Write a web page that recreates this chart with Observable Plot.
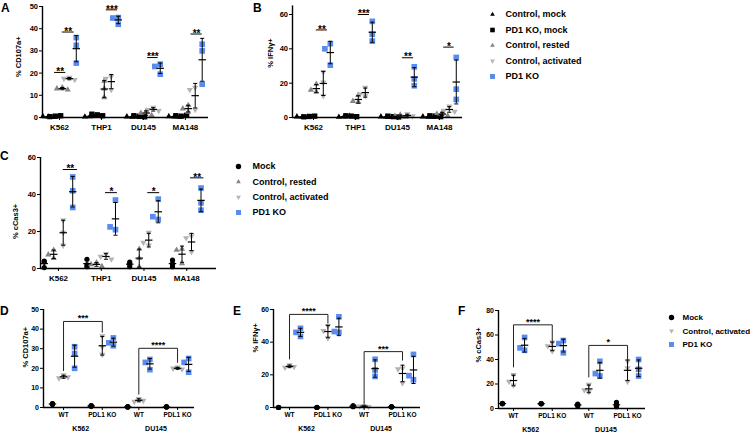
<!DOCTYPE html>
<html><head><meta charset="utf-8">
<script src="https://cdn.jsdelivr.net/npm/d3@7"></script>
<script src="https://cdn.jsdelivr.net/npm/@observablehq/plot@0.6"></script>
<style>
body{margin:0;background:#fff;font-family:"Liberation Sans",Arial,Helvetica,sans-serif;}
#fig{position:relative;width:750px;height:432px;overflow:hidden;background:#fff;}
.lbl{position:absolute;font-weight:bold;font-size:12px;line-height:12px;color:#000;}
</style></head><body><div id="fig"></div>
<script>
// ---------------- data ----------------
const abCats = ["K562", "THP1", "DU145", "MA148"];
const abGroups = ["Control, mock", "PD1 KO, mock", "Control, rested", "Control, activated", "PD1 KO"];
const cGroups = ["Mock", "Control, rested", "Control, activated", "PD1 KO"];
const defCells = ["K562", "DU145"];
const defTargets = ["WT", "PDL1 KO"];
const defGroups = ["Mock", "Control, activated", "PD1 KO"];

// A: % CD107a+  [cell line][group][replicate]
const cd107aA = [
  [[0.3, 0.5, 0.2], [0.6, 0.4, 0.8], [13.5, 13, 12.5], [18, 17.5, 17], [36, 32.5, 24.5]],
  [[0.5, 0.3, 0.8], [1.2, 1.5, 0.8], [16.5, 13, 9], [18.5, 17.5, 12.5], [45, 44.8, 42]],
  [[0.2, 0.4, 0.3], [0.5, 0.8, 0.3], [3, 2, 1], [4.5, 3.5, 3], [24, 23, 19.5]],
  [[0.3, 0.5, 0.2], [0.6, 0.8, 1], [5.5, 4, 2.5], [13.5, 12.5, 3.5], [33, 30, 15]]
];
// B: % IFNγ+
const ifngB = [
  [[0.3, 0.5, 0.2], [0.6, 0.4, 0.8], [15, 19.5, 16], [26.5, 20.5, 12.5], [43, 40, 30.5]],
  [[0.5, 0.3, 0.8], [0.8, 1, 0.5], [13, 9, 9.5], [17.5, 12.5, 13.5], [56, 48.5, 44.5]],
  [[0.3, 0.5, 0.2], [0.5, 0.8, 0.3], [1.5, 0.8, 0.3], [2, 0.5, 0.8], [29.5, 22.5, 18.5]],
  [[0.3, 0.5, 0.2], [0.8, 1, 0.5], [3, 2, 1], [6.5, 4, 3.5], [35, 16.5, 10.5]]
];
// C: % cCas3+
const ccas3C = [
  [[4, 3.5, 0.5], [10, 5.5, 7.5], [26, 19.5, 12.5], [49.5, 42, 33]],
  [[5, 2, 1], [3.2, 2.2, 1.2], [8, 6.5, 5], [37, 21, 22.5]],
  [[3.5, 2.5, 1], [10.5, 5.5, 0.8], [19.5, 12.5, 14], [37.5, 26.5, 28]],
  [[4.5, 2.5, 1], [10.5, 10, 2.7], [17.5, 16.5, 9], [43.5, 35.5, 31.5]]
];
// D: % CD107a+  [cell][target][group][replicate]
const cd107aD = [
  [[[1.5, 2, 1.8], [16.5, 15, 15.5], [31, 27.5, 20]], [[0.8, 1, 0.6], [36.5, 31, 27], [35.5, 31.5, 33]]],
  [[[0.3, 0.2, 0.4], [4.5, 3, 3.5], [24.5, 23, 19.3]], [[0.3, 0.4, 0.2], [20.5, 20, 19.5], [25, 23, 18]]]
];
// E: % IFNγ+
const ifngE = [
  [[[0, 0.1, 0], [26, 24.5, 25], [48.5, 46, 43.5]], [[0, 0.1, 0], [50, 42.5, 47], [55.5, 46, 46.5]]],
  [[[1, 0.5, 1], [1, 0.8, 0.5], [29.5, 23, 19]], [[0.4, 0.3, 0.5], [24, 23.5, 15], [32.5, 17, 19.5]]]
];
// F: % cCas3+
const ccas3F = [
  [[[4, 3.8, 4.2], [27.5, 19, 22], [58, 47.5, 49.5]], [[4, 3.8, 3.9], [54, 47, 51], [55.5, 53, 45.5]]],
  [[[3.5, 2, 3], [19.5, 13.5, 15], [38.5, 26.5, 28.5]], [[5, 2.5, 1.5], [38.5, 33, 22], [40, 32, 26.5]]]
];
// significance annotations
const sigA = [
  {cat: 0, x1: 0.9, x2: 2.5, y: 20.3, label: "**"},
  {cat: 0, x1: 2.0, x2: 3.7, y: 38.5, label: "**"},
  {cat: 1, x1: 2.3, x2: 3.9, y: 48.5, label: "***"},
  {cat: 2, x1: 2.2, x2: 3.7, y: 27, label: "***"},
  {cat: 3, x1: 2.4, x2: 4.0, y: 37.6, label: "**"}
];
const sigB = [
  {cat: 0, x1: 2.0, x2: 3.6, y: 51, label: "**"},
  {cat: 1, x1: 2.0, x2: 3.6, y: 60, label: "***"},
  {cat: 2, x1: 2.3, x2: 3.9, y: 34.8, label: "**"},
  {cat: 3, x1: 2.2, x2: 3.7, y: 41, label: "*"}
];
const sigC = [
  {cat: 0, x1: 2.0, x2: 3.5, y: 53.5, label: "**"},
  {cat: 1, x1: 1.95, x2: 3.2, y: 41, label: "*"},
  {cat: 2, x1: 1.9, x2: 3.15, y: 41, label: "*"},
  {cat: 3, x1: 1.9, x2: 3.3, y: 49, label: "**"}
];
const brD = [{cell: 0, top: 43.9, left: 18.8, right: 38.4, label: "***"}, {cell: 1, top: 30.2, left: 6.8, right: 23, label: "****"}];
const brE = [{cell: 0, top: 57, left: 29.7, right: 51.6, label: "****"}, {cell: 1, top: 34.2, left: 2, right: 29, label: "***"}];
const brF = [{cell: 0, top: 68.3, left: 33.9, right: 54.2, label: "****"}, {cell: 1, top: 51.5, left: 25.7, right: 39.3, label: "*"}];

// ---------------- styles ----------------
const FONT = "'Liberation Sans', Arial, Helvetica, sans-serif";
const BLUE = "#5a8cf0", GRAY = "#858585", LGRAY = "#b3b3b3";
const S3 = Math.sqrt(3);
const triDown = {draw(ctx, size) { const y = -Math.sqrt(size / (S3 * 3)); ctx.moveTo(0, -y * 2); ctx.lineTo(-S3 * y, y); ctx.lineTo(S3 * y, y); ctx.closePath(); }};
const hline = {draw(ctx, size) { const w = Math.sqrt(size) / 2; ctx.moveTo(-w, 0); ctx.lineTo(w, 0); }};
const groupStyle = {
  "Control, mock": {symbol: d3.symbolTriangle, fill: "#000", r: 2.3, lr: 1.75},
  "PD1 KO, mock": {symbol: d3.symbolSquare, fill: "#000", r: 3.0, lr: 2.6},
  "Mock": {symbol: d3.symbolCircle, fill: "#000", r: 2.6, lr: 2.7},
  "Control, rested": {symbol: d3.symbolTriangle, fill: GRAY, r: 2.3, lr: 1.75},
  "Control, activated": {symbol: triDown, fill: LGRAY, r: 2.3, lr: 1.8},
  "PD1 KO": {symbol: d3.symbolSquare, fill: BLUE, r: 3.2, lr: 2.8}
};
const noSpread = new Set(["Mock"]);
const posAB = (ci, gi) => ci * 6 + gi;
const posC = (ci, gi) => ci * 4.5 + gi;
const posDEF = (ci, si, gi) => ci * 6.8 + si * 3.5 + gi;

const fig = document.getElementById("fig");

// horizontal spreading of overlapping replicates (in px)
function spread(values, ppv, s, thr = 6) {
  const placed = [];
  return values.map(v => {
    const py = v * ppv;
    let off = 0;
    for (const c of [0, -s, s, -2 * s, 2 * s]) {
      if (!placed.some(p => Math.abs(p.py - py) < thr && Math.abs(p.px - c) < s * 0.95)) { off = c; break; }
    }
    placed.push({px: off, py});
    return off;
  });
}

function panel(cfg) {
  const {left, top, width, height, mL, mR, mT, mB, xDomain, yDomain, yTicks, groups, step = 5.4,
    ticks, tickLabels, tickFont, tickPad, yFont, yLabel, labDx, labDy, extra = []} = cfg;
  const ppu = (width - mL - mR) / (xDomain[1] - xDomain[0]);
  const ppv = (height - mT - mB) / (yDomain[1] - yDomain[0]);
  const pts = [], st = [];
  for (const g of groups) {
    const offs = noSpread.has(g.group) ? g.values.map(() => 0) : spread(g.values, ppv, step);
    g.values.forEach((v, i) => pts.push({x: g.x + offs[i] / ppu, y: v, group: g.group}));
    const m = d3.mean(g.values), sd = d3.deviation(g.values);
    st.push({x: g.x, mean: m, lo: m - sd, hi: m + sd});
  }
  const tickMap = new Map(ticks.map((t, i) => [t, tickLabels[i]]));
  const dots = Object.entries(groupStyle).map(([name, s]) =>
    Plot.dot(pts.filter(p => p.group === name), {x: "x", y: "y", symbol: s.symbol, fill: s.fill, r: s.r}));
  const svg = Plot.plot({
    width, height, marginLeft: mL, marginRight: mR, marginTop: mT, marginBottom: mB,
    x: {domain: xDomain, axis: null}, y: {domain: yDomain, axis: null},
    style: {position: "absolute", left: left + "px", top: top + "px", background: "transparent", overflow: "visible", fontFamily: FONT, color: "#000"},
    marks: [
      ...dots,
      Plot.ruleX(st, {x: "x", y1: "lo", y2: "hi", stroke: "#000", strokeWidth: 1}),
      Plot.dot(st, {x: "x", y: "lo", symbol: hline, r: 2.3, stroke: "#000", fill: "none", strokeWidth: 1}),
      Plot.dot(st, {x: "x", y: "hi", symbol: hline, r: 2.3, stroke: "#000", fill: "none", strokeWidth: 1}),
      Plot.dot(st, {x: "x", y: "mean", symbol: hline, r: 4.2, stroke: "#000", fill: "none", strokeWidth: 1.2}),
      Plot.ruleX([xDomain[0]], {y1: yDomain[0], y2: yDomain[1], stroke: "#000", strokeWidth: 1.4}),
      Plot.ruleY([0], {x1: xDomain[0], x2: xDomain[1], stroke: "#000", strokeWidth: 1.4}),
      Plot.axisY({ticks: yTicks, tickSize: 3, tickPadding: 1.5, fontSize: yFont, fontWeight: "bold", fontFamily: FONT, label: null, tickFormat: d => String(d)}),
      Plot.axisX({ticks, tickFormat: d => tickMap.get(d), tickSize: 3, tickPadding: tickPad, fontSize: tickFont, fontWeight: "bold", fontFamily: FONT, label: null}),
      Plot.text([yLabel], {frameAnchor: "left", rotate: -90, dx: labDx, dy: labDy, text: d => d, fontSize: 7.5, fontWeight: "bold", fontFamily: FONT}),
      ...extra
    ]
  });
  fig.appendChild(svg);
}

function sigMarks(sig, step) {
  return [
    Plot.ruleY(sig, {y: "y", x1: d => d.cat * step + d.x1, x2: d => d.cat * step + d.x2, stroke: "#000", strokeWidth: 1}),
    Plot.text(sig, {x: d => d.cat * step + (d.x1 + d.x2) / 2, y: "y", text: "label", fontSize: 10, fontWeight: "bold", fontFamily: FONT, lineAnchor: "middle", dy: -0.5})
  ];
}
function bracketMarks(br) {
  const pts = br.flatMap((b, k) => {
    const xl = posDEF(b.cell, 0, 1), xr = posDEF(b.cell, 1, 1);
    return [{k, x: xl, y: b.left}, {k, x: xl, y: b.top}, {k, x: xr, y: b.top}, {k, x: xr, y: b.right}];
  });
  return [
    Plot.line(pts, {x: "x", y: "y", z: "k", stroke: "#222", strokeWidth: 1}),
    Plot.text(br, {x: b => (posDEF(b.cell, 0, 1) + posDEF(b.cell, 1, 1)) / 2, y: "top", text: "label", fontSize: 9, fontWeight: "bold", fontFamily: FONT, lineAnchor: "middle", dy: -3})
  ];
}
const cellLabelMarks = () => [
  Plot.text(defCells, {x: (d, i) => i * 6.8 + 2.55, frameAnchor: "bottom", dy: 21, text: d => d, fontSize: 7, fontWeight: "bold", fontFamily: FONT, lineAnchor: "middle"})
];

const groupsAB = arr => arr.flatMap((cat, ci) => cat.map((vals, gi) => ({x: posAB(ci, gi), group: abGroups[gi], values: vals})));
const groupsC = arr => arr.flatMap((cat, ci) => cat.map((vals, gi) => ({x: posC(ci, gi), group: cGroups[gi], values: vals})));
const groupsDEF = arr => arr.flatMap((cell, ci) => cell.flatMap((tgt, si) => tgt.map((vals, gi) => ({x: posDEF(ci, si, gi), group: defGroups[gi], values: vals}))));
const ticksAB = abCats.map((c, i) => i * 6 + 1.6);
const ticksC = abCats.map((c, i) => i * 4.5 + 1.5);
const ticksDEF = defCells.flatMap((c, ci) => defTargets.map((t, si) => posDEF(ci, si, 1)));
const labelsDEF = defCells.flatMap(() => defTargets);

// A
panel({left: 0, top: 0, width: 240, height: 140, mL: 42, mR: 32, mT: 6, mB: 23,
  xDomain: [-0.83, 22.9], yDomain: [0, 50], yTicks: [0, 10, 20, 30, 40, 50], groups: groupsAB(cd107aA),
  ticks: ticksAB, tickLabels: abCats, tickFont: 8, tickPad: 4, yFont: 7.5,
  yLabel: "% CD107a+", labDx: -24, labDy: 15, extra: sigMarks(sigA, 6)});
// B
panel({left: 240, top: 0, width: 240, height: 140, mL: 52, mR: 18, mT: 117 - 65 * 103 / 60, mB: 23,
  xDomain: [-1.4, 22.89], yDomain: [0, 65], yTicks: [0, 20, 40, 60], groups: groupsAB(ifngB),
  ticks: ticksAB, tickLabels: abCats, tickFont: 8, tickPad: 4, yFont: 7.5,
  yLabel: "% IFNγ+", labDx: -22, labDy: 6, extra: sigMarks(sigB, 6)});
// C
panel({left: 0, top: 145, width: 240, height: 150, mL: 40, mR: 24, mT: 12, mB: 27,
  xDomain: [-0.39, 18.13], yDomain: [0, 60], yTicks: [0, 20, 40, 60], groups: groupsC(ccas3C),
  ticks: ticksC, tickLabels: abCats, tickFont: 8, tickPad: 3.5, yFont: 7.5,
  yLabel: "% cCas3+", labDx: -25, labDy: 26, extra: sigMarks(sigC, 4.5)});
// D
panel({left: 0, top: 290, width: 240, height: 142, mL: 43, mR: 46, mT: 19, mB: 25, step: 4.5,
  xDomain: [-0.81, 12.83], yDomain: [0, 50], yTicks: [0, 10, 20, 30, 40, 50], groups: groupsDEF(cd107aD),
  ticks: ticksDEF, tickLabels: labelsDEF, tickFont: 6.5, tickPad: 2, yFont: 7,
  yLabel: "% CD107a+", labDx: -18, labDy: 9, extra: [...bracketMarks(brD), ...cellLabelMarks()]});
// E
panel({left: 240, top: 290, width: 240, height: 142, mL: 33, mR: 60, mT: 19, mB: 25, step: 4.5,
  xDomain: [-0.46, 12.94], yDomain: [0, 60], yTicks: [0, 20, 40, 60], groups: groupsDEF(ifngE),
  ticks: ticksDEF, tickLabels: labelsDEF, tickFont: 6.5, tickPad: 2, yFont: 7,
  yLabel: "% IFNγ+", labDx: -18, labDy: -6, extra: [...bracketMarks(brE), ...cellLabelMarks()]});
// F
panel({left: 470, top: 290, width: 190, height: 142, mL: 28, mR: 15, mT: 20, mB: 24, step: 4.5,
  xDomain: [-0.355, 12.92], yDomain: [0, 80], yTicks: [0, 20, 40, 60, 80], groups: groupsDEF(ccas3F),
  ticks: ticksDEF, tickLabels: labelsDEF, tickFont: 6.5, tickPad: 2, yFont: 7,
  yLabel: "% cCas3+", labDx: -20, labDy: 3, extra: [...bracketMarks(brF), ...cellLabelMarks()]});

// legends
function legend({left, top, width, height, items, markX, textX, y0, y1, fontSize}) {
  const svg = Plot.plot({
    width, height, margin: 0,
    x: {domain: [0, 1], range: [markX, textX], axis: null},
    y: {domain: [0, items.length - 1], range: [y0, y1], axis: null},
    style: {position: "absolute", left: left + "px", top: top + "px", background: "transparent", overflow: "visible", fontFamily: FONT, color: "#000"},
    marks: [
      ...items.map((name, i) => Plot.dot([i], {x: 0, y: d => d, symbol: groupStyle[name].symbol, fill: groupStyle[name].fill, r: groupStyle[name].lr})),
      Plot.text(items, {x: 1, y: (d, i) => i, text: d => d, textAnchor: "start", fontSize, fontWeight: "bold", fontFamily: FONT})
    ]
  });
  fig.appendChild(svg);
}
legend({left: 480, top: 0, width: 270, height: 90, items: abGroups, markX: 12, textX: 25, y0: 14, y1: 76, fontSize: 9});
legend({left: 226, top: 150, width: 150, height: 75, items: cGroups, markX: 12, textX: 26, y0: 16, y1: 62, fontSize: 9});
legend({left: 658, top: 305, width: 92, height: 50, items: defGroups, markX: 13, textX: 24, y0: 12, y1: 39, fontSize: 8});

// panel letters
[["A", 1, 2], ["B", 253, 2], ["C", 0, 150], ["D", 0, 305], ["E", 233, 305], ["F", 458, 305]].forEach(([t, x, y]) => {
  const d = document.createElement("div");
  d.className = "lbl"; d.textContent = t; d.style.left = x + "px"; d.style.top = y + "px";
  fig.appendChild(d);
});
</script></body></html>
